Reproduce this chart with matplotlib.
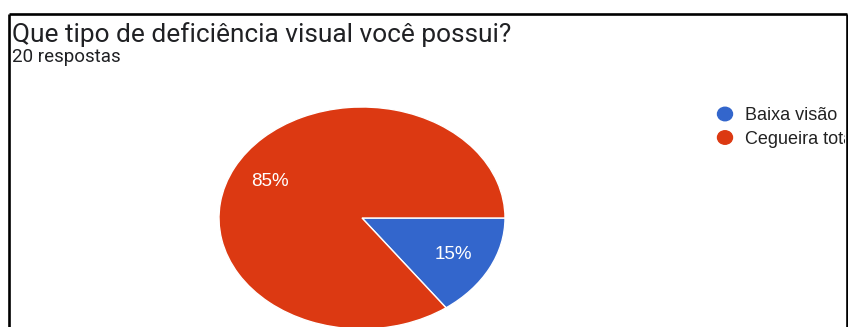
import matplotlib
matplotlib.use("Agg")
import matplotlib.pyplot as plt
from matplotlib.lines import Line2D
from matplotlib.patches import Ellipse

# Survey data
title = "Que tipo de deficiência visual você possui?"
subtitle = "20 respostas"
categories = ["Baixa visão", "Cegueira total"]
shares = [15, 85]
colors = ["#3366CC", "#DC3912"]

W, H = 848, 327
fig = plt.figure(figsize=(W / 100, H / 100), dpi=100)
fig.patch.set_facecolor("white")


def px(x, y):
    """Pixel position (from top-left) to figure fraction."""
    return x / W, 1 - y / H


# Card frame: top, left and right edges
frame_kw = dict(color="black", linewidth=1.9, solid_capstyle="butt")
fig.add_artist(Line2D([9 / W, 846.5 / W], [1 - 14 / H, 1 - 14 / H], transform=fig.transFigure, **frame_kw))
fig.add_artist(Line2D([9 / W, 9 / W], [1 - 14 / H, 0], transform=fig.transFigure, **frame_kw))
fig.add_artist(Line2D([846.5 / W, 846.5 / W], [1 - 14 / H, 0], transform=fig.transFigure, **frame_kw))

# Heading
fig.text(*px(12, 42), title, family="Roboto", fontsize=18.9, color="#202124", va="baseline", ha="left")
fig.text(*px(12, 62), subtitle, family="Roboto", fontsize=13.5, color="#202124", va="baseline", ha="left")

# Pie (horizontally stretched, as the card is displayed)
cx, cy, rx, ry = 362, 218, 143, 111
ax = fig.add_axes([(cx - rx) / W, 1 - (cy + ry) / H, 2 * rx / W, 2 * ry / H])
wedges, texts, autotexts = ax.pie(
    shares,
    colors=colors,
    startangle=0,
    counterclock=False,
    autopct="%d%%",
    pctdistance=0.72,
    wedgeprops=dict(edgecolor="white", linewidth=1.0),
    textprops=dict(color="white", family="Liberation Sans", fontsize=13.5),
)
ax.set_aspect("auto")
ax.set_xlim(-1, 1)
ax.set_ylim(-1, 1)
ax.axis("off")

# Legend; entries run under the card's right edge and are cut there
lax = fig.add_axes([0, 0, 845 / W, 1])
lax.set_xlim(0, 845)
lax.set_ylim(H, 0)
lax.axis("off")
for i, (name, col) in enumerate(zip(categories, colors)):
    y = 114 + 23.5 * i
    lax.add_patch(Ellipse((725, y), 15, 13.5, color=col, clip_on=True))
    lax.text(745, y, name, family="Liberation Sans", fontsize=13, color="#222222",
             va="center_baseline", ha="left", clip_on=True)

fig.savefig("out.png", dpi=100)
